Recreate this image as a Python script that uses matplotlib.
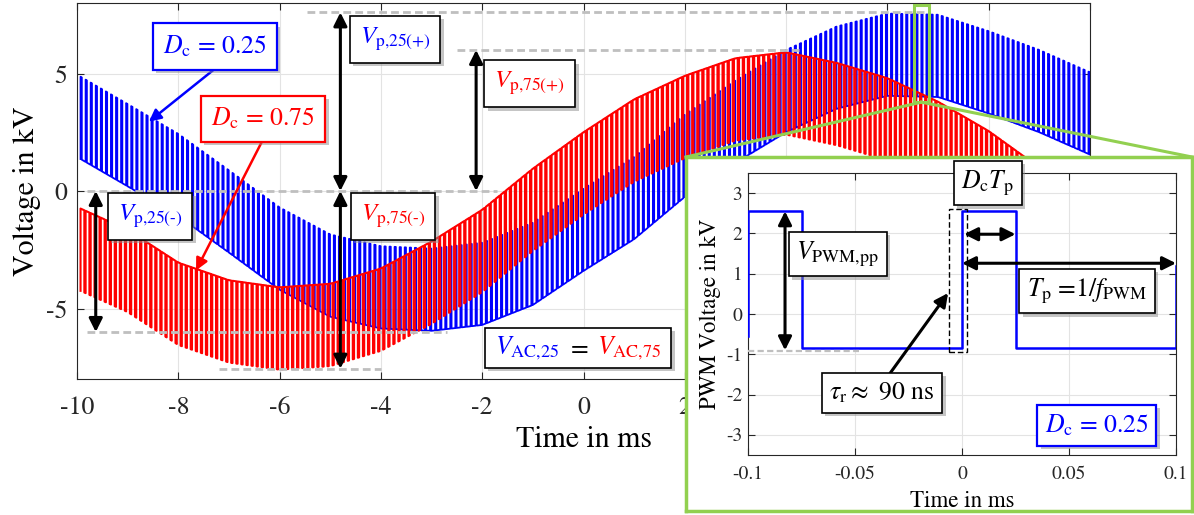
import numpy as np
import matplotlib
matplotlib.use("Agg")
import matplotlib.pyplot as plt
import matplotlib.patheffects as pe
from matplotlib.patches import Rectangle, FancyBboxPatch
from matplotlib.lines import Line2D
from matplotlib.transforms import IdentityTransform, Bbox

plt.rcParams["font.family"] = "STIXGeneral"
plt.rcParams["mathtext.fontset"] = "stix"
plt.rcParams["axes.unicode_minus"] = False

# ---- data ----
# AC part of the output, sampled every 1 ms (kV)
t_env = [-10, -9, -8, -7, -6, -5, -4, -3, -2, -1, 0, 1, 2, 3, 4, 5, 6, 7, 8, 9, 10]
blue_low = [1.45, 0.2, -1.07, -2.62, -4.2, -5.35, -5.85, -5.95, -5.7, -4.85, -3.4,
            -2.05, -0.25, 1.2, 2.5, 3.5, 4.05, 4.0, 3.3, 2.5, 1.55]       # Dc = 0.25, low level
red_high = [-0.68, -1.65, -3.05, -3.8, -4.1, -3.95, -3.3, -2.15, -0.8, 0.95, 2.5,
            3.9, 4.9, 5.65, 5.9, 5.45, 4.8, 3.8, 2.55, 1.0, -0.7]         # Dc = 0.75, high level
v_pwm_pp = 3.5        # kV
f_pwm = 10.0          # kHz
first_edge = -9.93    # ms
duty_blue = 0.25
duty_red = 0.75
main_xticks = [-10, -8, -6, -4, -2, 0, 2, 4, 6, 8, 10]
main_xticklabels = ["-10", "-8", "-6", "-4", "-2", "0", "2", "", "", "", ""]  # rest hidden by inset

# zoomed PWM period (inset)
inset_t = [-0.1, -0.1, -0.075, -0.075, 0.0, 0.0, 0.025, 0.025, 0.1, 0.1]
inset_v = [-0.55, 2.55, 2.55, -0.85, -0.85, 2.55, 2.55, -0.85, -0.85, 1.2]

BLUE = "#0000FF"
RED = "#FF0000"
GREEN = "#92D050"
GRAY = "#BFBFBF"
W, H = 1194, 515


def px_rect(x0, y0, x1, y1):
    return [x0 / W, 1 - y1 / H, (x1 - x0) / W, (y1 - y0) / H]


def pwm_trace(env, duty, is_low):
    period = 1.0 / f_pwm
    n = int(round(20 * f_pwm))
    rise = first_edge + period * np.arange(n)
    fall = rise + duty * period
    tt = np.column_stack([rise, rise, fall, fall]).ravel()
    base = np.interp(tt, t_env, env)
    if is_low:
        vv = base + v_pwm_pp * np.tile([0, 1, 1, 0], n)
    else:
        vv = base - v_pwm_pp * np.tile([1, 0, 0, 1], n)
    return tt, vv


def style_axes(a, tsize, xpad, ypad):
    a.tick_params(direction="in", top=True, right=True, length=5, width=0.8,
                  colors="#262626", labelsize=tsize)
    a.tick_params(axis="x", pad=xpad)
    a.tick_params(axis="y", pad=ypad)
    for s in a.spines.values():
        s.set_color("#262626")
        s.set_linewidth(0.8)
    a.grid(True, color="#E3E3E3", lw=0.8)
    a.set_axisbelow(True)


def boxed(a, x, y, s, color="k", ec="k", size=18, lw=1.2, pad=0.4):
    t = a.text(x, y, s, color=color, fontsize=size, ha="center", va="center", zorder=12,
               bbox=dict(boxstyle=f"square,pad={pad}", fc="white", ec=ec, lw=lw))
    t.get_bbox_patch().set_path_effects(
        [pe.withSimplePatchShadow(offset=(2.5, -2.5), shadow_rgbFace="0.55", alpha=0.5)])
    return t


def dbl_arrow(a, p0, p1, lw=2.2, ms=20):
    a.annotate("", xy=p1, xytext=p0, zorder=9,
               arrowprops=dict(arrowstyle="<|-|>", color="k", lw=lw, mutation_scale=ms,
                               shrinkA=0, shrinkB=0))


def arrow(a, p0, p1, color, lw=1.8, ms=18):
    a.annotate("", xy=p1, xytext=p0, zorder=9,
               arrowprops=dict(arrowstyle="-|>", color=color, lw=lw, mutation_scale=ms,
                               shrinkA=0, shrinkB=0))


def gray_dash(a, x0, x1, y, lw=2.0):
    a.plot([x0, x1], [y, y], color=GRAY, lw=lw, ls=(0, (2.8, 1.5)), zorder=5)


fig = plt.figure(figsize=(11.94, 5.15), dpi=100)

# ---------------- main plot ----------------
ax = fig.add_axes(px_rect(77, 3, 1090, 379))
style_axes(ax, 18.5, 12, 7)
tb, vb = pwm_trace(blue_low, duty_blue, True)
tr, vr = pwm_trace(red_high, duty_red, False)
ax.plot(tb, vb, color=BLUE, lw=1.3, zorder=3)
ax.plot(tr, vr, color=RED, lw=1.5, zorder=4)
ax.set_xlim(-10, 10)
ax.set_ylim(-8, 8)
ax.set_xticks(main_xticks)
ax.set_xticklabels(main_xticklabels)
ax.set_yticks([-5, 0, 5])
ax.set_xlabel("Time in ms", fontsize=21.5)
ax.set_ylabel("Voltage in kV", fontsize=21.5)
ax.xaxis.set_label_coords(0.5, -0.125)
ax.yaxis.set_label_coords(-0.036, 0.5)

gray_dash(ax, -5.45, 6.75, 7.6)
gray_dash(ax, -2.5, 4.25, 6.0)
gray_dash(ax, -9.8, -1.7, 0.0)
gray_dash(ax, -9.8, -2.7, -6.0)
gray_dash(ax, -7.2, -4.0, -7.56)

dbl_arrow(ax, (-4.8, 0.0), (-4.8, 7.6))
dbl_arrow(ax, (-4.8, 0.0), (-4.8, -7.56))
dbl_arrow(ax, (-2.12, 0.0), (-2.12, 6.0))
dbl_arrow(ax, (-9.63, 0.0), (-9.63, -6.0))

boxed(ax, -3.72, 6.45, r"$V_{\mathrm{p{,}25(+)}}$", color=BLUE)
boxed(ax, -1.06, 4.57, r"$V_{\mathrm{p{,}75(+)}}$", color=RED)
boxed(ax, -8.56, -1.07, "$V_{\\mathrm{p{,}25(\u2010)}}$", color=BLUE)
boxed(ax, -3.76, -1.07, "$V_{\\mathrm{p{,}75(\u2010)}}$", color=RED)
boxed(ax, -7.28, 6.15, r"$D_{\mathrm{c}}$ = 0.25", color=BLUE, ec=BLUE, lw=1.6, size=18.5)
boxed(ax, -6.33, 3.08, r"$D_{\mathrm{c}}$ = 0.75", color=RED, ec=RED, lw=1.6, size=18.5)
arrow(ax, (-7.22, 5.3), (-8.58, 2.95), BLUE)
arrow(ax, (-6.33, 2.18), (-7.65, -3.38), RED)

# zoom window on the main plot
ax.add_patch(Rectangle((6.53, 3.8), 0.29, 4.1, fill=False, ec=GREEN, lw=2.2, zorder=7))

# two-coloured box  V_AC,25 = V_AC,75
fig.canvas.draw()
rend = fig.canvas.get_renderer()
parts = [(r"$V_{\mathrm{AC{,}25}}$", BLUE), (r"$=$", "k"), (r"$V_{\mathrm{AC{,}75}}$", RED)]
texts, widths = [], []
for s, c in parts:
    t = ax.text(0, 0, s, color=c, fontsize=18.5, ha="left", va="baseline",
                transform=IdentityTransform(), zorder=12)
    texts.append(t)
    widths.append(t.get_window_extent(rend).width)
gap = 8
x0 = 0
for t, w in zip(texts, widths):
    t.set_position((x0, 0))
    x0 += w + gap
bb = Bbox.union([t.get_window_extent(rend) for t in texts])
cx, cy = ax.transData.transform((-0.11, -6.67))
dx, dy = cx - (bb.x0 + bb.x1) / 2, cy - (bb.y0 + bb.y1) / 2
for t in texts:
    px, py = t.get_position()
    t.set_position((px + dx, py + dy))
padx, pady = 10, 6
box = FancyBboxPatch((bb.x0 + dx - padx, bb.y0 + dy - pady), bb.width + 2 * padx,
                     bb.height + 2 * pady, boxstyle="square,pad=0", fc="white", ec="k",
                     lw=1.2, transform=IdentityTransform(), zorder=11)
box.set_path_effects([pe.withSimplePatchShadow(offset=(2.5, -2.5), shadow_rgbFace="0.55", alpha=0.5)])
ax.add_patch(box)

# ---------------- inset ----------------
axbox = fig.add_axes(px_rect(686, 157, 1192, 511), zorder=5)
axbox.set_xticks([])
axbox.set_yticks([])
for s in axbox.spines.values():
    s.set_color(GREEN)
    s.set_linewidth(2.5)

axi = fig.add_axes(px_rect(748, 173, 1176, 455), zorder=6)
style_axes(axi, 14, 8, 4)
gray_dash(axi, -0.1, -0.048, -0.92, lw=1.6)
axi.plot(inset_t, inset_v, color=BLUE, lw=1.8, zorder=3)
axi.set_xlim(-0.1, 0.1)
axi.set_ylim(-3.5, 3.5)
axi.set_xticks([-0.1, -0.05, 0, 0.05, 0.1])
axi.set_xticklabels(["-0.1", "-0.05", "0", "0.05", "0.1"])
axi.set_yticks([-3, -2, -1, 0, 1, 2, 3])
axi.set_xlabel("Time in ms", fontsize=16.5)
axi.set_ylabel("PWM Voltage in kV", fontsize=16.5)
axi.xaxis.set_label_coords(0.5, -0.125)
axi.yaxis.set_label_coords(-0.063, 0.5)

axi.add_patch(Rectangle((-0.006, -0.95), 0.0083, 3.55, fill=False, ec="k", lw=1.0,
                        ls=(0, (4, 2)), zorder=4))
dbl_arrow(axi, (-0.0827, 2.55), (-0.0827, -0.9))
dbl_arrow(axi, (0.001, 1.98), (0.025, 1.98))
dbl_arrow(axi, (0.0, 1.26), (0.1, 1.26))
arrow(axi, (-0.0336, -1.47), (-0.0065, 0.52), "k", lw=2.2, ms=20)

boxed(axi, 0.0121, 3.25, r"$D_{\mathrm{c}}T_{\mathrm{p}}$", size=18.5, pad=0.3)
boxed(axi, -0.058, 1.49, r"$V_{\mathrm{PWM{,}pp}}$", size=18.5, pad=0.3)
boxed(axi, 0.0584, 0.57, r"$T_{\mathrm{p}}$ =1/$f_{\mathrm{PWM}}$", size=18.5, pad=0.3)
boxed(axi, -0.0374, -1.96, r"$\tau_{\mathrm{r}} \approx$ 90 ns", size=18.5, pad=0.3)
boxed(axi, 0.063, -2.76, r"$D_{\mathrm{c}}$ = 0.25", color=BLUE, ec=BLUE, size=18.5, lw=1.6, pad=0.3)

# lines joining the zoom window to the inset frame
p = fig.transFigure.inverted().transform(ax.transData.transform((6.67, 3.78)))
for qx in (686, 1192):
    fig.add_artist(Line2D([p[0], qx / W], [p[1], 1 - 157 / H], transform=fig.transFigure,
                          color=GREEN, lw=2.2, zorder=4))

fig.savefig("out.png", dpi=100)
